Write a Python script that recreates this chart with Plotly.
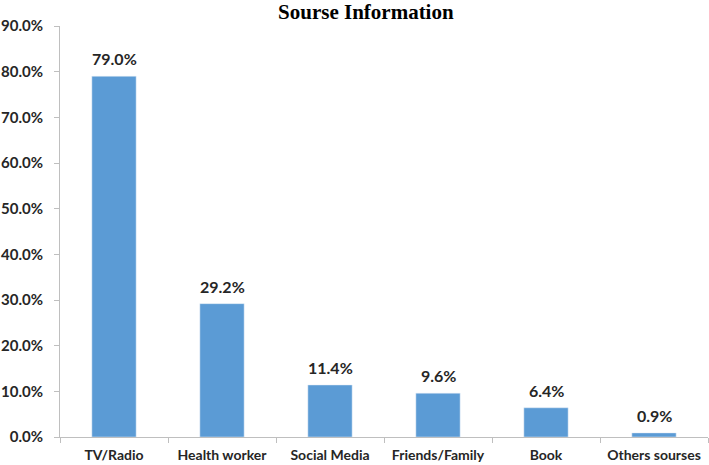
import plotly.graph_objects as go

categories = ["TV/Radio", "Health worker", "Social Media", "Friends/Family", "Book", "Others sourses"]
values = [0.790, 0.292, 0.114, 0.096, 0.064, 0.009]
labels = ["79.0%", "29.2%", "11.4%", "9.6%", "6.4%", "0.9%"]

FONT = dict(family="Lato", size=16, color="#262626", weight="bold")

fig = go.Figure(go.Bar(
    x=categories, y=values,
    marker_color="#5B9BD5", width=0.41,
    hoverinfo="skip",
))
for c, v, t in zip(categories, values, labels):
    fig.add_annotation(x=c, y=v, text=t, showarrow=False, yanchor="bottom",
                       yshift=6, font=FONT)

fig.update_layout(
    width=709, height=465,
    margin=dict(l=60, r=1, t=26, b=28, autoexpand=False),
    paper_bgcolor="white", plot_bgcolor="white",
    title=dict(text="<b>Sourse Information</b>", x=0.516, xanchor="center", y=0.991, yanchor="top",
               font=dict(family="Liberation Serif", size=21, color="black")),
    showlegend=False,
    bargap=0.59,
)
fig.update_yaxes(range=[0, 0.9], dtick=0.1, tickformat=".1%", showgrid=False,
                 showline=True, linecolor="#bfbfbf", linewidth=1, automargin=False,
                 ticks="outside", ticklen=5, tickcolor="#bfbfbf",
                 tickfont=dict(FONT, size=15), ticklabelstandoff=8)
fig.update_xaxes(showline=True, linecolor="#bfbfbf", linewidth=1, automargin=False,
                 ticks="outside", ticklen=5, tickcolor="#bfbfbf", tickson="boundaries",
                 tickangle=0, tickfont=dict(FONT, size=14), ticklabelstandoff=5)
fig.write_html("out.html", config={"displayModeBar": False},
               post_script="document.body.style.margin='0';")
